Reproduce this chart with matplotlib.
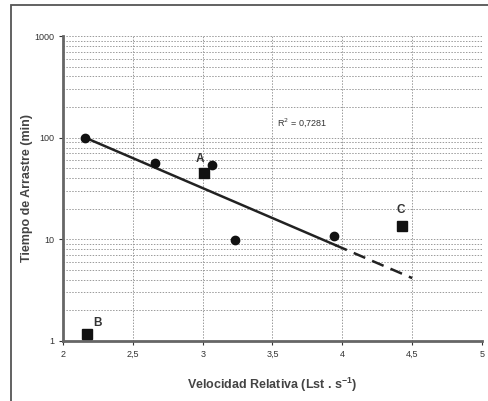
import matplotlib
matplotlib.use("Agg")
import matplotlib.pyplot as plt
import numpy as np
from matplotlib.patches import Rectangle
from matplotlib.ticker import LogLocator, FixedLocator, NullFormatter

plt.rcParams["font.family"] = ["Liberation Sans", "DejaVu Sans"]

# datos
circ_x = [2.16, 2.66, 3.07, 3.23, 3.94]
circ_y = [100, 56, 54, 9.9, 10.8]
sq_x = [3.01, 2.17, 4.43]
sq_y = [45, 1.17, 13.5]
sq_labels = ["A", "B", "C"]
# ajuste: log10(y) = a + b*x
fit_a = 3.274
fit_b = -0.59
fit_x_solid = [2.16, 3.95]
fit_x_dash = [3.95, 4.5]
r2_text = "R$^{2}$ = 0,7281"
xticks = [2, 2.5, 3, 3.5, 4, 4.5, 5]
xtick_labels = ["2", "2,5", "3", "3,5", "4", "4,5", "5"]
yticks = [1, 10, 100, 1000]
ytick_labels = ["1", "10", "100", "1000"]

fig = plt.figure(figsize=(4.89, 4.01), dpi=100)
# marco exterior
fig.patches.append(Rectangle((11 / 489, -0.1), 1.2, 1.1 - 5 / 401, transform=fig.transFigure,
                             fill=False, edgecolor="#555555", lw=1.3))
ax = fig.add_axes([63 / 489, 60 / 401, 419 / 489, 305 / 401])

ax.set_yscale("log")
ax.set_xlim(2, 5)
ax.set_ylim(1, 1000)

grid_kw = dict(color="#9a9a9a", lw=0.7, ls=(0, (1.5, 1.5)))
for xv in xticks[1:]:
    ax.axvline(xv, zorder=0, **grid_kw)
ax.yaxis.set_major_locator(FixedLocator(yticks))
ax.yaxis.set_minor_locator(LogLocator(base=10, subs=np.arange(2, 10)))
ax.yaxis.set_minor_formatter(NullFormatter())
ax.grid(True, which="both", axis="y", zorder=0, **grid_kw)

xs = np.array(fit_x_solid)
ax.plot(xs, 10 ** (fit_a + fit_b * xs), color="#222222", lw=1.8, zorder=3)
xd = np.array(fit_x_dash)
ax.plot(xd, 10 ** (fit_a + fit_b * xd), color="#222222", lw=1.8, ls=(0, (5, 3)), zorder=3)

ax.plot(circ_x, circ_y, "o", color="#111111", ms=6, zorder=4)
ax.plot(sq_x, sq_y, "s", color="#111111", ms=7, zorder=4)
offsets = [(-3, 6), (8, 4), (-1, 7)]
for x, y, lab, off in zip(sq_x, sq_y, sq_labels, offsets):
    ax.annotate(lab, (x, y), xytext=off, textcoords="offset points", fontsize=8.5,
                fontweight="bold", color="#333333", ha="center", va="bottom")

ax.text(3.53, 142, r2_text, fontsize=6.5, color="#333333", ha="left", va="center")

ax.set_xticks(xticks)
ax.set_xticklabels(xtick_labels)
ax.set_yticklabels(ytick_labels)
ax.tick_params(axis="both", which="major", labelsize=6.5, colors="#333333", length=3, width=0.8)
ax.tick_params(axis="y", which="minor", length=0)

for s in ["top", "right"]:
    ax.spines[s].set_visible(False)
for s in ["left", "bottom"]:
    ax.spines[s].set_color("#666666")
    ax.spines[s].set_linewidth(2)

ax.set_xlabel("Velocidad Relativa (Lst . s$^{\\mathregular{-1}}$)", fontsize=9, fontweight="bold",
              color="#444444")
ax.set_ylabel("Tiempo de Arrastre (min)", fontsize=9, fontweight="bold", color="#444444")
ax.xaxis.set_label_coords(0.5, -0.115)
ax.yaxis.set_label_coords(-0.072, 0.5)

fig.savefig("out.png", dpi=100)
